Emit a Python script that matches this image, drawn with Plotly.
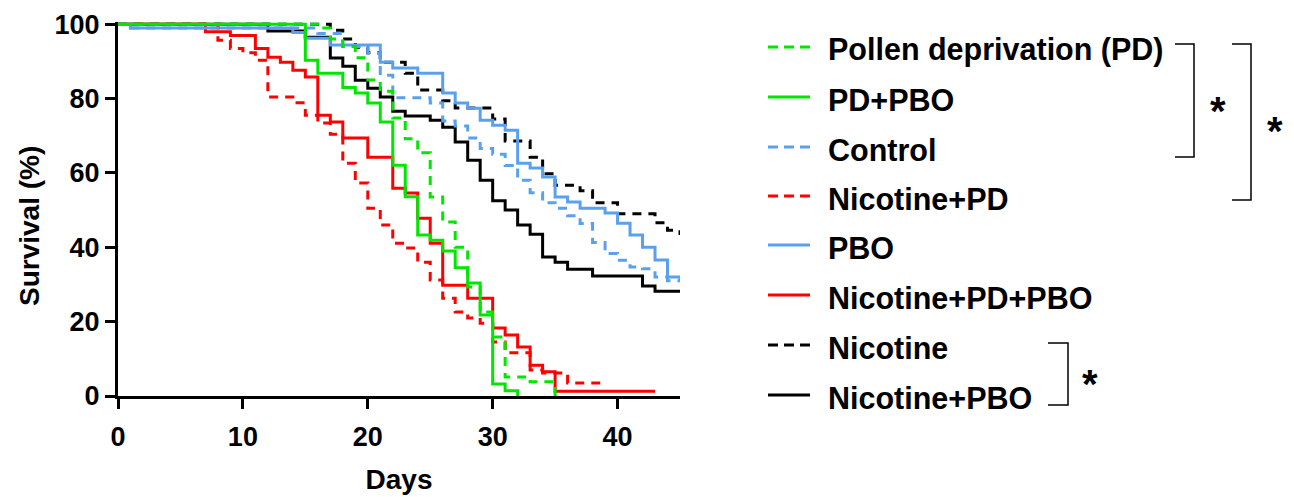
import plotly.graph_objects as go

# ---- survival data (Kaplan-Meier steps: day, % surviving) ----
pd_days = [0, 16, 17, 18, 19, 20, 21, 22, 23, 24, 25, 26, 27, 28, 29, 30, 31, 33, 35]
pd_surv = [100, 99, 96, 94, 91, 85, 82, 74.8, 69.2, 65.4, 53.5, 46.8, 40, 29.3, 22.6, 15.9, 5.1, 3.8, 0]

pdpbo_days = [0, 15, 16, 18, 19, 20, 21, 22, 23, 24, 25, 26, 27, 28, 29, 30, 31, 32]
pdpbo_surv = [100, 90.3, 86.8, 83, 81.5, 78.8, 73.7, 62.1, 53.6, 43.3, 41.9, 39, 34.5, 30.4, 21.8, 3.2, 1.4, 0]

ctrl_days = [0, 1, 16, 18, 20, 21, 22, 25, 26, 27, 28, 29, 30, 31, 32, 33, 34, 35, 36, 37, 38, 39, 40, 41, 42, 43, 44, 45]
ctrl_surv = [100, 99, 97.5, 94, 92.2, 86.3, 80.2, 78.8, 74, 72.6, 69.4, 66.6, 65, 62, 58, 54.7, 52, 50.5, 48.5, 46.4, 41.3, 38.3, 36.5, 34.7, 34.2, 32, 31, 30.6]

nicpd_days = [0, 8, 9, 10, 11, 12, 14, 15, 16, 17, 18, 19, 20, 21, 22, 23, 24, 25, 26, 27, 28, 29, 30, 31, 33, 34, 36, 39]
nicpd_surv = [100, 95.7, 93.5, 92.3, 90.3, 80.4, 78.9, 75.5, 73.4, 70.4, 62.6, 57.3, 50.5, 46, 41.1, 39.8, 36, 31.2, 26.3, 22.6, 21, 19.6, 14.5, 11.6, 7, 6.2, 3.5, 3.5]

pbo_days = [0, 1, 14, 15, 17, 21, 22, 24, 26, 27, 28, 29, 30, 31, 32, 33, 34, 35, 36, 37, 39, 40, 41, 42, 43, 44, 45]
pbo_surv = [100, 99, 97.8, 96.2, 94.4, 89.8, 88.2, 86.8, 81.5, 78.8, 77.4, 74.2, 72.8, 71.5, 62.6, 61.3, 58.9, 53.5, 52.2, 50.5, 49.2, 46.5, 43.3, 40, 36.6, 32, 31]

nicpdpbo_days = [0, 7, 9, 11, 12, 13, 14, 15, 16, 17, 18, 20, 22, 23, 24, 25, 26, 28, 30, 31, 32, 33, 34, 35, 43]
nicpdpbo_surv = [100, 98, 97, 93.5, 91.1, 89.8, 87.6, 85.8, 75.5, 73.7, 69.4, 64.2, 55.9, 54.6, 47.8, 41.1, 29.8, 26.3, 18.3, 16.4, 13.2, 8.3, 6.5, 1.3, 1.3]

nic_days = [0, 17, 18, 19, 20, 21, 23, 24, 26, 27, 30, 31, 33, 34, 35, 37, 38, 40, 43, 44, 45]
nic_surv = [100, 98.4, 96, 93.8, 92.3, 89.8, 86.8, 82.3, 79.4, 77.5, 74.5, 68.6, 64.2, 59.8, 56.7, 55.2, 52, 49, 46.6, 44.6, 43.3]

nicpbo_days = [0, 12, 15, 17, 18, 19, 20, 21, 22, 23, 25, 26, 27, 28, 29, 30, 31, 32, 33, 34, 35, 36, 38, 42, 43, 45]
nicpbo_surv = [100, 98.2, 96.5, 90.9, 88.7, 84.9, 82.8, 80.4, 76.6, 75.3, 74.2, 72.3, 68.3, 63.4, 58, 52.5, 50, 46, 43.5, 37.4, 36, 34.1, 32.3, 29.6, 28.2, 28.2]

x_ticks = [0, 10, 20, 30, 40]
y_ticks = [0, 20, 40, 60, 80, 100]

GREEN = "#00E600"
BLUE = "#5AA0EE"
RED = "#FF0000"
BLACK = "#000000"
DASH = "9px,7px"

# legend order (top to bottom)
groups = [
    ("Pollen deprivation (PD)", pd_days, pd_surv, GREEN, True),
    ("PD+PBO", pdpbo_days, pdpbo_surv, GREEN, False),
    ("Control", ctrl_days, ctrl_surv, BLUE, True),
    ("Nicotine+PD", nicpd_days, nicpd_surv, RED, True),
    ("PBO", pbo_days, pbo_surv, BLUE, False),
    ("Nicotine+PD+PBO", nicpdpbo_days, nicpdpbo_surv, RED, False),
    ("Nicotine", nic_days, nic_surv, BLACK, True),
    ("Nicotine+PBO", nicpbo_days, nicpbo_surv, BLACK, False),
]

W, H = 1294, 497
L, R, T, B = 118, 614, 22, 101
PW = W - L - R
PH = H - T - B


def fx(px):
    return (px - L) / PW


def fy(py):
    return (H - B - py) / PH


FONT = "Liberation Sans, Arial, Helvetica, sans-serif"

fig = go.Figure()

# draw so that the first legend entries end up on top
for name, d, s, col, dashed in reversed(groups):
    fig.add_trace(go.Scatter(
        x=d, y=s, name=name, mode="lines", line_shape="hv",
        line=dict(color=col, width=3, dash=DASH if dashed else "solid"),
        showlegend=False, hoverinfo="skip",
    ))

shapes = []
annotations = []

# legend: line samples + labels
leg_y = [50, 100, 150, 199, 248, 298, 348, 398]
for (name, d, s, col, dashed), yy in zip(groups, leg_y):
    shapes.append(dict(type="line", xref="paper", yref="paper",
                       x0=fx(768), x1=fx(810), y0=fy(yy - 3), y1=fy(yy - 3),
                       line=dict(color=col, width=3, dash="10px,6px" if dashed else "solid")))
    annotations.append(dict(text=name, xref="paper", yref="paper", x=fx(826), y=fy(yy),
                            xanchor="left", yanchor="middle", showarrow=False,
                            font=dict(family=FONT, size=30.5, color="black", weight="bold")))


def bracket(x_open, x_close, y_top, y_bot):
    path = (f"M{fx(x_open)},{fy(y_top)} L{fx(x_close)},{fy(y_top)} "
            f"L{fx(x_close)},{fy(y_bot)} L{fx(x_open)},{fy(y_bot)}")
    return dict(type="path", xref="paper", yref="paper", path=path,
                line=dict(color="black", width=1.5))


shapes.append(bracket(1175, 1194, 44, 157))
shapes.append(bracket(1232, 1251, 44, 200))
shapes.append(bracket(1048, 1068, 343, 405))

for ax, ay in [(1218, 111), (1275, 131), (1090, 384)]:
    annotations.append(dict(text="*", xref="paper", yref="paper", x=fx(ax), y=fy(ay),
                            xanchor="center", yanchor="middle", showarrow=False,
                            font=dict(family=FONT, size=40, color="black", weight="bold")))

# y-axis title
annotations.append(dict(text="Survival (%)", xref="paper", yref="paper",
                        x=fx(30), y=fy(226), xanchor="center", yanchor="middle",
                        textangle=-90, showarrow=False,
                        font=dict(family=FONT, size=28, color="black", weight="bold")))

axis_common = dict(
    showline=True, linewidth=3, linecolor="black", mirror=False,
    ticks="outside", ticklen=10, tickwidth=3, tickcolor="black",
    showgrid=False, zeroline=False, automargin=False,
    tickfont=dict(family=FONT, size=27, color="black", weight="bold"),
)

fig.update_layout(
    width=W, height=H,
    margin=dict(l=L, r=R, t=T, b=B, pad=0, autoexpand=False),
    paper_bgcolor="white", plot_bgcolor="white",
    xaxis=dict(range=[0, 45], tickvals=x_ticks, ticklabelstandoff=5,
               title=dict(text="Days", standoff=18,
                          font=dict(family=FONT, size=28, color="black", weight="bold")),
               **axis_common),
    yaxis=dict(range=[0, 100.6], tickvals=y_ticks,
               **axis_common),
    shapes=shapes,
    annotations=annotations,
    showlegend=False,
)

fig.write_html("out.html")
